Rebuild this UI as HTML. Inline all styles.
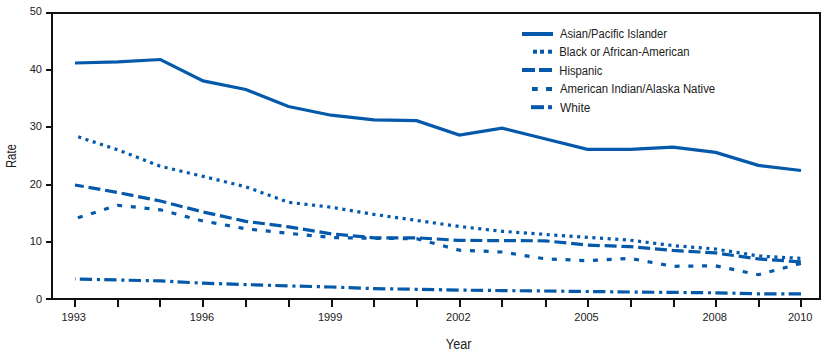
<!DOCTYPE html>
<html><head><meta charset="utf-8"><style>
html,body{margin:0;padding:0;background:#fff;width:826px;height:354px;overflow:hidden}
svg{display:block}
</style></head><body>
<svg width="826" height="354" viewBox="0 0 826 354">
<path d="M46 13H821M52 13V299M46 299H821M820 13V300" fill="none" stroke="#111" stroke-width="2"/>
<path d="M46 242H52" stroke="#111" stroke-width="2"/>
<path d="M46 185H52" stroke="#111" stroke-width="2"/>
<path d="M46 127H52" stroke="#111" stroke-width="2"/>
<path d="M46 70H52" stroke="#111" stroke-width="2"/>
<path d="M75 299V307" stroke="#111" stroke-width="2"/>
<path d="M118 299V307" stroke="#111" stroke-width="2"/>
<path d="M160 299V307" stroke="#111" stroke-width="2"/>
<path d="M203 299V307" stroke="#111" stroke-width="2"/>
<path d="M246 299V307" stroke="#111" stroke-width="2"/>
<path d="M289 299V307" stroke="#111" stroke-width="2"/>
<path d="M332 299V307" stroke="#111" stroke-width="2"/>
<path d="M374 299V307" stroke="#111" stroke-width="2"/>
<path d="M417 299V307" stroke="#111" stroke-width="2"/>
<path d="M460 299V307" stroke="#111" stroke-width="2"/>
<path d="M502 299V307" stroke="#111" stroke-width="2"/>
<path d="M546 299V307" stroke="#111" stroke-width="2"/>
<path d="M588 299V307" stroke="#111" stroke-width="2"/>
<path d="M631 299V307" stroke="#111" stroke-width="2"/>
<path d="M674 299V307" stroke="#111" stroke-width="2"/>
<path d="M716 299V307" stroke="#111" stroke-width="2"/>
<path d="M759 299V307" stroke="#111" stroke-width="2"/>
<path d="M801 299V307" stroke="#111" stroke-width="2"/>
<polyline points="75.0,63.0 117.7,61.9 160.4,59.5 203.1,80.9 245.8,89.5 288.5,106.5 331.2,115.2 373.9,119.8 416.6,120.7 459.4,135.1 502.1,128.1 544.8,138.7 587.5,149.4 630.2,149.4 672.9,147.2 715.6,152.4 758.3,165.4 801.0,170.5" fill="none" stroke="#0459aa" stroke-width="3.2" stroke-linejoin="miter"/>
<polyline points="75.0,135.8 117.7,149.8 160.4,166.3 203.1,176.4 245.8,186.8 288.5,202.3 331.2,207.2 373.9,214.4 416.6,220.4 459.4,226.5 502.1,231.3 544.8,234.4 587.5,237.4 630.2,240.2 672.9,245.6 715.6,249.0 758.3,256.0 801.0,258.4" fill="none" stroke="#0459aa" stroke-width="3.2" stroke-dasharray="3.1 4.533" stroke-dashoffset="4.251"/>
<polyline points="75.0,185.0 117.7,192.5 160.4,201.0 203.1,212.0 245.8,221.3 288.5,226.8 331.2,233.8 373.9,237.8 416.6,237.8 459.4,240.4 502.1,240.6 544.8,240.8 587.5,245.1 630.2,246.6 672.9,250.4 715.6,252.9 758.3,258.9 801.0,261.9" fill="none" stroke="#0459aa" stroke-width="3.2" stroke-dasharray="12 4.814" stroke-dashoffset="3.116"/>
<polyline points="75.0,218.7 117.7,205.3 160.4,209.8 203.1,221.0 245.8,228.8 288.5,233.3 331.2,237.5 373.9,238.3 416.6,238.7 459.4,250.2 502.1,252.0 544.8,258.8 587.5,260.7 630.2,258.4 672.9,266.3 715.6,265.8 758.3,274.7 801.0,263.4" fill="none" stroke="#0459aa" stroke-width="3.2" stroke-dasharray="5 8.737" stroke-dashoffset="10.741"/>
<polyline points="75.0,279.0 117.7,280.0 160.4,280.9 203.1,283.2 245.8,284.6 288.5,285.9 331.2,287.0 373.9,288.6 416.6,289.3 459.4,290.1 502.1,290.6 544.8,291.0 587.5,291.5 630.2,292.0 672.9,292.4 715.6,292.8 758.3,293.8 801.0,293.8" fill="none" stroke="#0459aa" stroke-width="3.2" stroke-dasharray="12.3 4.8 3.1 4.251" stroke-dashoffset="19.653"/>
<text x="42" y="303.0" font-family="Liberation Sans, sans-serif" font-size="11" text-anchor="end" fill="#222">0</text>
<text x="42" y="245.0" font-family="Liberation Sans, sans-serif" font-size="11" text-anchor="end" fill="#222">10</text>
<text x="42" y="187.8" font-family="Liberation Sans, sans-serif" font-size="11" text-anchor="end" fill="#222">20</text>
<text x="42" y="130.1" font-family="Liberation Sans, sans-serif" font-size="11" text-anchor="end" fill="#222">30</text>
<text x="42" y="73.4" font-family="Liberation Sans, sans-serif" font-size="11" text-anchor="end" fill="#222">40</text>
<text x="42" y="15.0" font-family="Liberation Sans, sans-serif" font-size="11" text-anchor="end" fill="#222">50</text>
<text x="73.75" y="320.9" font-family="Liberation Sans, sans-serif" font-size="11" text-anchor="middle" fill="#222">1993</text>
<text x="201.94" y="320.9" font-family="Liberation Sans, sans-serif" font-size="11" text-anchor="middle" fill="#222">1996</text>
<text x="330.13" y="320.9" font-family="Liberation Sans, sans-serif" font-size="11" text-anchor="middle" fill="#222">1999</text>
<text x="458.32" y="320.9" font-family="Liberation Sans, sans-serif" font-size="11" text-anchor="middle" fill="#222">2002</text>
<text x="586.51" y="320.9" font-family="Liberation Sans, sans-serif" font-size="11" text-anchor="middle" fill="#222">2005</text>
<text x="714.70" y="320.9" font-family="Liberation Sans, sans-serif" font-size="11" text-anchor="middle" fill="#222">2008</text>
<text x="800.16" y="320.9" font-family="Liberation Sans, sans-serif" font-size="11" text-anchor="middle" fill="#222">2010</text>
<text x="458.7" y="349" font-family="Liberation Sans, sans-serif" font-size="14" text-anchor="middle" fill="#222" textLength="25.7" lengthAdjust="spacingAndGlyphs">Year</text>
<text transform="translate(16.1,156.1) rotate(-90)" font-family="Liberation Sans, sans-serif" font-size="14" text-anchor="middle" fill="#222" textLength="24" lengthAdjust="spacingAndGlyphs">Rate</text>
<text x="560" y="37.8" font-family="Liberation Sans, sans-serif" font-size="12" fill="#222" textLength="107.05" lengthAdjust="spacingAndGlyphs">Asian/Pacific Islander</text>
<text x="559.3" y="56.1" font-family="Liberation Sans, sans-serif" font-size="12" fill="#222" textLength="130.3" lengthAdjust="spacingAndGlyphs">Black or African-American</text>
<text x="559.3" y="75.0" font-family="Liberation Sans, sans-serif" font-size="12" fill="#222" textLength="43.2" lengthAdjust="spacingAndGlyphs">Hispanic</text>
<text x="560" y="92.9" font-family="Liberation Sans, sans-serif" font-size="12" fill="#222" textLength="155.2" lengthAdjust="spacingAndGlyphs">American Indian/Alaska Native</text>
<text x="560" y="111.8" font-family="Liberation Sans, sans-serif" font-size="12" fill="#222" textLength="30.4" lengthAdjust="spacingAndGlyphs">White</text>
<rect x="522" y="32" width="31" height="4" fill="#0459aa"/>
<rect x="533" y="49.7" width="4" height="4" fill="#0459aa"/>
<rect x="540" y="49.7" width="4" height="4" fill="#0459aa"/>
<rect x="548" y="49.7" width="4" height="4" fill="#0459aa"/>
<rect x="522" y="68" width="13" height="4" fill="#0459aa"/>
<rect x="539" y="68" width="13" height="4" fill="#0459aa"/>
<rect x="532" y="87" width="5.7" height="4" fill="#0459aa"/>
<rect x="546" y="87" width="6" height="4" fill="#0459aa"/>
<rect x="531" y="105.2" width="13" height="4" fill="#0459aa"/>
<rect x="548" y="105.2" width="4" height="4" fill="#0459aa"/>
</svg>
</body></html>
